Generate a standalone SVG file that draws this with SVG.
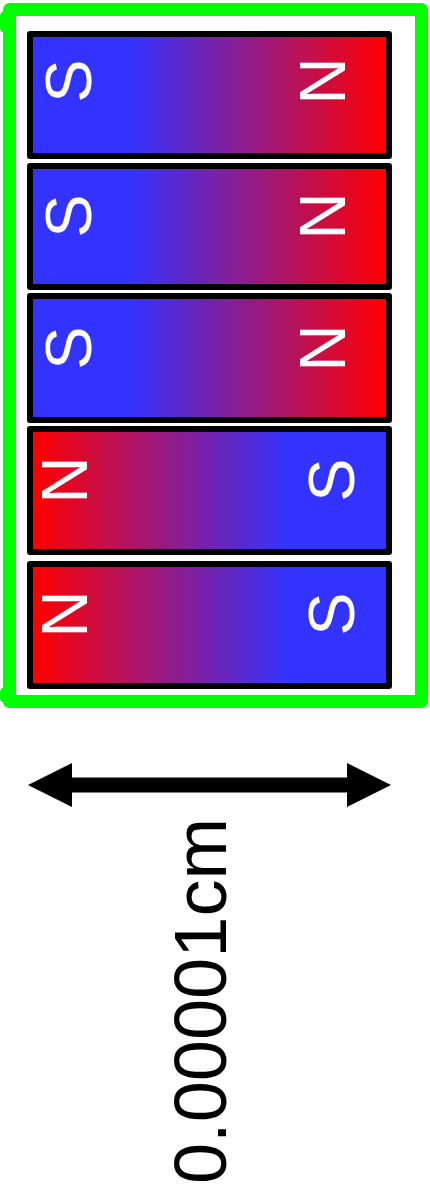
<svg xmlns="http://www.w3.org/2000/svg" width="430" height="1202" viewBox="0 0 430 1202">
  <defs>
    <linearGradient id="sn" gradientUnits="userSpaceOnUse" x1="130" y1="0" x2="386" y2="0">
      <stop offset="0" stop-color="#3333ff"/>
      <stop offset="1" stop-color="#ff0000"/>
    </linearGradient>
    <linearGradient id="ns" gradientUnits="userSpaceOnUse" x1="33" y1="0" x2="289" y2="0">
      <stop offset="0" stop-color="#ff0000"/>
      <stop offset="1" stop-color="#3333ff"/>
    </linearGradient>
  </defs>
  <style>
    .mag { stroke: #000; stroke-width: 6; stroke-linejoin: round; }
    .pole { fill: #fff; font-family: "Liberation Sans", Arial, sans-serif; font-size: 65px; text-anchor: middle; }
    .lbl { fill: #000; font-family: "Liberation Sans", Arial, sans-serif; font-size: 74px; text-anchor: middle; }
  </style>
  <rect width="430" height="1202" fill="#fff"/>
  <g id="frame">
    <rect x="9.5" y="9.5" width="412" height="692" fill="none" stroke="#00ff00" stroke-width="13" stroke-linejoin="round"/>
    <path d="M5,16 L5,28 M5,692 L5,698" fill="none" stroke="#00ff00" stroke-width="10" stroke-linecap="round"/>
  </g>
  <g id="magnet1">
    <rect class="mag" x="30" y="34" width="359" height="122" fill="url(#sn)"/>
    <text class="pole" transform="translate(91,81) rotate(-90)">S</text>
    <text class="pole" transform="translate(345,81) rotate(-90)">N</text>
  </g>
  <g id="magnet2">
    <rect class="mag" x="30" y="166" width="359" height="121" fill="url(#sn)"/>
    <text class="pole" transform="translate(91,216) rotate(-90)">S</text>
    <text class="pole" transform="translate(345,216) rotate(-90)">N</text>
  </g>
  <g id="magnet3">
    <rect class="mag" x="30" y="296" width="359" height="124" fill="url(#sn)"/>
    <text class="pole" transform="translate(91,348) rotate(-90)">S</text>
    <text class="pole" transform="translate(345,348) rotate(-90)">N</text>
  </g>
  <g id="magnet4">
    <rect class="mag" x="30" y="429" width="359" height="123" fill="url(#ns)"/>
    <text class="pole" transform="translate(87,480) rotate(-90)">N</text>
    <text class="pole" transform="translate(354,480) rotate(-90)">S</text>
  </g>
  <g id="magnet5">
    <rect class="mag" x="30" y="564" width="359" height="122" fill="url(#ns)"/>
    <text class="pole" transform="translate(87,614) rotate(-90)">N</text>
    <text class="pole" transform="translate(354,614) rotate(-90)">S</text>
  </g>
  <g id="connectors">
    <line x1="70" y1="785" x2="349" y2="785" stroke="#000" stroke-width="15"/>
    <polygon points="28,785 72,763 72,807" fill="#000"/>
    <polygon points="391,785 347,763 347,807" fill="#000"/>
  </g>
  <g id="label">
    <text class="lbl" transform="translate(226,1001) rotate(-90)">0.00001cm</text>
  </g>
</svg>
